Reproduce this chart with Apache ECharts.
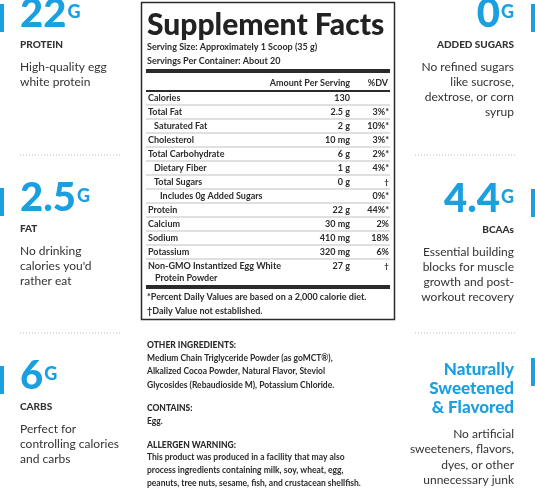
<!DOCTYPE html>
<html><head><meta charset="utf-8">
<script src="https://cdn.jsdelivr.net/npm/echarts@6/dist/echarts.min.js"></script>
<style>html,body{margin:0;padding:0;background:#fff}#c{width:535px;height:488px}</style>
</head><body><div id="c"></div>
<script>
const nutrients = ["Calories","Total Fat","Saturated Fat","Cholesterol","Total Carbohydrate","Dietary Fiber","Total Sugars","Includes 0g Added Sugars","Protein","Calcium","Sodium","Potassium","Non-GMO Instantized Egg White"];
const indents = [0,0,1,0,0,1,1,2,0,0,0,0,0];
const amounts = ["130","2.5 g","2 g","10 mg","6 g","1 g","0 g","","22 g","30 mg","410 mg","320 mg","27 g"];
const dvs = ["","3%*","10%*","3%*","2%*","4%*","†","0%*","44%*","2%","18%","6%","†"];
const leftStats = [["22","PROTEIN",["High-quality egg","white protein"]],["2.5","FAT",["No drinking","calories you'd","rather eat"]],["6","CARBS",["Perfect for","controlling calories","and carbs"]]];
const rightStats = [["0","ADDED SUGARS",["No refined sugars","like sucrose,","dextrose, or corn","syrup"]],["4.4","BCAAs",["Essential building","blocks for muscle","growth and post-","workout recovery"]]];
const ingredientLines = ["Medium Chain Triglyceride Powder (as goMCT®),","Alkalized Cocoa Powder, Natural Flavor, Steviol","Glycosides (Rebaudioside M), Potassium Chloride."];
const warningLines = ["This product was produced in a facility that may also","process ingredients containing milk, soy, wheat, egg,","peanuts, tree nuts, sesame, fish, and crustacean shellfish."];

const F = "Lato, 'Noto Sans', sans-serif";
const BLUE = "#1a9fe0", DARK = "#2b2b2b";
const g = [];
function txt(x,y,s,o){g.push({type:'text',x,y,style:Object.assign({text:s,fill:DARK,font:"bold 9px "+F,textVerticalAlign:'middle'},o||{})});}
function line(x1,y1,x2,y2,w,c,dash){g.push({type:'line',shape:{x1,y1,x2,y2},style:{stroke:c||DARK,lineWidth:w||1,lineDash:dash}});}
g.push({type:'rect',shape:{x:141.5,y:2.5,width:253,height:317},style:{fill:'none',stroke:DARK,lineWidth:1.5}});
txt(147,25,"Supplement Facts",{font:"900 30px "+F,fill:"#222"});
txt(147,47,"Serving Size: Approximately 1 Scoop (35 g)");
txt(147,61,"Servings Per Container: About 20");
line(146,71,390,71,4);
txt(350,83,"Amount Per Serving",{textAlign:'right'});
txt(388,83,"%DV",{textAlign:'right'});
line(146,91,390,91,2);
let y=98;
nutrients.forEach((n,i)=>{
  txt(148+indents[i]*6,y,n);
  txt(350,y,amounts[i],{textAlign:'right'});
  txt(389,y,dvs[i],{textAlign:'right',font:(dvs[i].includes('%')?"bold 9px ":"bold 8px ")+F});
  if(i<nutrients.length-1) line(146,y+7,390,y+7,0.6,"#999");
  y+=14;
});
txt(155,y-2,"Protein Powder");
line(146,287,390,287,4);
txt(147,297,"*Percent Daily Values are based on a 2,000 calorie diet.");
txt(147,311,"†Daily Value not established.");
txt(147,345,"OTHER INGREDIENTS:",{font:"900 8.5px "+F});
ingredientLines.forEach((s,i)=>txt(147,358+i*13.5,s,{font:"bold 8.5px "+F}));
txt(147,408,"CONTAINS:",{font:"900 8.5px "+F});
txt(147,421,"Egg.",{font:"bold 8.5px "+F});
txt(147,445,"ALLERGEN WARNING:",{font:"900 8.5px "+F});
warningLines.forEach((s,i)=>txt(147,457.5+i*12.8,s,{font:"bold 8.5px "+F}));
const lTop=[18,202,380];
leftStats.forEach((s,k)=>{
  const t=lTop[k];
  g.push({type:'rect',shape:{x:0,y:t-14,width:4,height:28},style:{fill:BLUE}});
  g.push({type:'text',x:20,y:t+16,style:{text:'{a|'+s[0]+'}{b|G}',textVerticalAlign:'bottom',rich:{a:{font:"900 40px "+F,fill:BLUE},b:{font:"900 18px "+F,fill:BLUE,padding:[0,0,4,1]}}}});
  txt(20,t+27,s[1],{font:"900 10px "+F,fill:"#333"});
  s[2].forEach((l,i)=>txt(20,t+49+i*15,l,{font:"12px "+F,fill:"#333"}));
});
line(20,155,120,155,1,"#bbb",[1,2]);
line(20,333,120,333,1,"#bbb",[1,2]);
const rTop=[18,203];
rightStats.forEach((s,k)=>{
  const t=rTop[k];
  g.push({type:'rect',shape:{x:531,y:t-14,width:4,height:28},style:{fill:BLUE}});
  g.push({type:'text',x:514,y:t+16,style:{text:'{a|'+s[0]+'}{b|G}',align:'right',textAlign:'right',textVerticalAlign:'bottom',rich:{a:{font:"900 40px "+F,fill:BLUE},b:{font:"900 18px "+F,fill:BLUE,padding:[0,0,4,1]}}}});
  txt(514,t+27,s[1],{font:"900 10px "+F,fill:"#333",textAlign:'right'});
  s[2].forEach((l,i)=>txt(514,t+49+i*15,l,{font:"12px "+F,fill:"#333",textAlign:'right'}));
});
line(415,155,515,155,1,"#bbb",[1,2]);
line(415,333,515,333,1,"#bbb",[1,2]);
g.push({type:'rect',shape:{x:531,y:358,width:4,height:28},style:{fill:BLUE}});
["Naturally","Sweetened","& Flavored"].forEach((s,i)=>txt(514,370+i*19,s,{font:"900 17px "+F,fill:BLUE,textAlign:'right'}));
["No artificial","sweeteners, flavors,","dyes, or other","unnecessary junk"].forEach((s,i)=>txt(514,434+i*15.5,s,{font:"12px "+F,fill:"#333",textAlign:'right'}));
const chart=echarts.init(document.getElementById('c'));
chart.setOption({animation:false,graphic:g});
</script></body></html>
